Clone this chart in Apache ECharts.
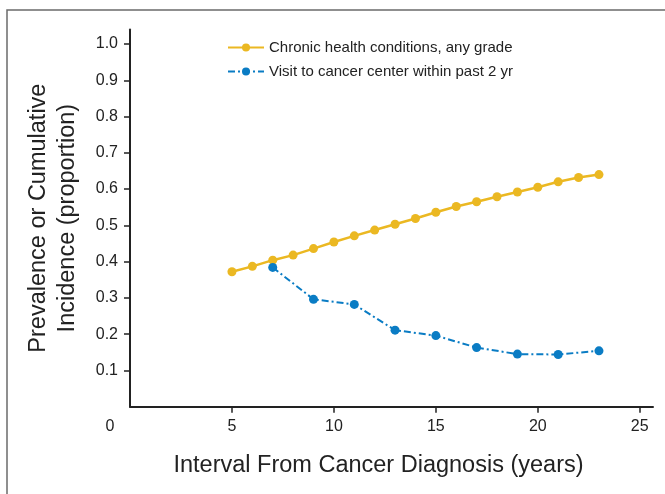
<!DOCTYPE html>
<html><head><meta charset="utf-8">
<script src="https://cdn.jsdelivr.net/npm/echarts@6/dist/echarts.min.js"></script>
<style>html,body{margin:0;padding:0;background:#fff}#c{width:665px;height:494px}</style>
</head><body><div id="c"></div>
<script>
var chronicYears = [5,6,7,8,9,10,11,12,13,14,15,16,17,18,19,20,21,22,23];
var chronicValues = [0.372,0.387,0.404,0.418,0.436,0.454,0.471,0.487,0.503,0.519,0.536,0.552,0.565,0.579,0.592,0.605,0.620,0.632,0.640];
var visitYears = [7,9,11,13,15,17,19,21,23];
var visitValues = [0.384,0.296,0.282,0.211,0.196,0.163,0.145,0.144,0.154];
var xTickLabels = [0,5,10,15,20,25];
var xTicks = [5,10,15,20,25];
var yTicks = [0.1,0.2,0.3,0.4,0.5,0.6,0.7,0.8,0.9,1.0];
var seriesNames = ['Chronic health conditions, any grade','Visit to cancer center within past 2 yr'];

var font = '"Liberation Sans", Arial, sans-serif';
var chart = echarts.init(document.getElementById('c'));
function pairs(xs, ys){ return xs.map(function(x,i){return [x, ys[i]];}); }
chart.setOption({
  animation:false,
  graphic:[{type:'rect', shape:{x:7,y:10,width:720,height:600}, style:{fill:'none', stroke:'#6b6b6b', lineWidth:1.5}}],
  legend:{
    orient:'vertical', left:222, top:35, itemGap:9, itemWidth:36, itemHeight:10,
    textStyle:{fontFamily:font, fontSize:15, color:'#222'},
    data: seriesNames
  },
  grid:{left:130, right:12, top:29.5, bottom:87.3},
  xAxis:{
    type:'value', min:0, max:25.65,
    name:'Interval From Cancer Diagnosis (years)', nameLocation:'middle', nameGap:47,
    nameTextStyle:{fontFamily:font, fontSize:23.5, color:'#222', padding:[0,26,0,0]},
    axisLine:{lineStyle:{color:'#222', width:2}},
    axisTick:{show:true, length:6, lineStyle:{color:'#222', width:1.5}, customValues:xTicks},
    axisLabel:{fontFamily:font, fontSize:16, color:'#222', margin:12, customValues:xTickLabels,
      formatter:function(v){ return v===0 ? '{z|0}' : String(v); },
      rich:{z:{fontFamily:font, fontSize:16, color:'#222', padding:[0,40,0,0]}}},
    splitLine:{show:false}
  },
  yAxis:{
    type:'value', min:0, max:1.04,
    name:'Prevalence or Cumulative\nIncidence (proportion)', nameLocation:'middle', nameGap:48, nameRotate:90,
    nameTextStyle:{fontFamily:font, fontSize:23.5, color:'#222', lineHeight:29},
    axisLine:{show:true, lineStyle:{color:'#222', width:2}},
    axisTick:{show:true, length:6, lineStyle:{color:'#222', width:1.5}, customValues:yTicks},
    axisLabel:{fontFamily:font, fontSize:16, color:'#222', margin:12, customValues:yTicks,
      formatter:function(v){ return v.toFixed(1); }},
    splitLine:{show:false}
  },
  series:[
    {name:seriesNames[0], type:'line', data:pairs(chronicYears, chronicValues),
     symbol:'circle', symbolSize:9, color:'#EBB822',
     lineStyle:{color:'#EBB822', width:2.5}, itemStyle:{color:'#EBB822'}},
    {name:seriesNames[1], type:'line', data:pairs(visitYears, visitValues),
     symbol:'circle', symbolSize:9, color:'#0A7CC4',
     lineStyle:{color:'#0A7CC4', width:2, type:[7,3,2,3]}, itemStyle:{color:'#0A7CC4'}}
  ]
});
</script></body></html>
